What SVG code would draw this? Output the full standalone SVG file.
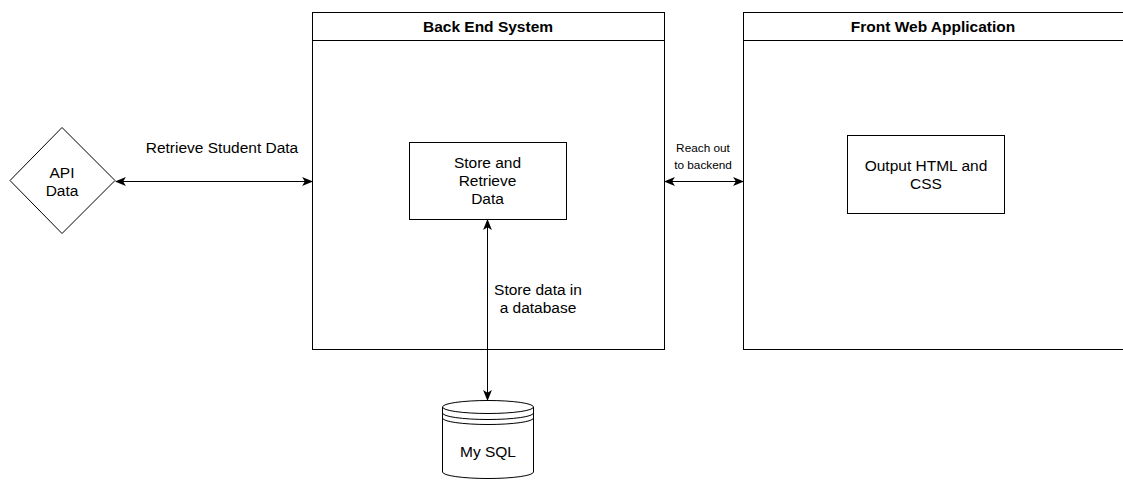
<svg xmlns="http://www.w3.org/2000/svg" width="1123" height="481" viewBox="0 0 1123 481">
<defs>
<marker id="arr" viewBox="0 0 10 10" refX="9" refY="5" markerWidth="11" markerHeight="11" markerUnits="userSpaceOnUse" orient="auto-start-reverse">
<path d="M0,1 L10,5 L0,9 L2.5,5 Z" fill="#000"/>
</marker>
</defs>
<style>
.box{fill:#fff;stroke:#000;stroke-width:1}
.t{font-family:"Liberation Sans",Arial,sans-serif;font-size:15.5px;fill:#000;text-anchor:middle}
.b{font-weight:bold}
.s{font-size:11.8px}
.c{fill:none;stroke:#000;stroke-width:1}
</style>
<rect width="1123" height="481" fill="#fff"/>
<g id="backend">
<rect class="box" x="312.5" y="12.5" width="352" height="337"/>
<line class="c" x1="312.5" y1="40.5" x2="664.5" y2="40.5"/>
<text class="t b" x="488" y="32">Back End System</text>
</g>
<g id="frontend">
<rect class="box" x="743.5" y="12.5" width="400" height="337"/>
<line class="c" x1="743.5" y1="40.5" x2="1123" y2="40.5"/>
<text class="t b" x="933" y="32">Front Web Application</text>
</g>
<g id="api">
<polygon class="box" points="62,127.5 115,180.5 62,233.5 10,180.5"/>
<text class="t" x="62" y="178">API</text>
<text class="t" x="62" y="196">Data</text>
</g>
<g id="store">
<rect class="box" x="409.5" y="142.5" width="157" height="77"/>
<text class="t" x="487.5" y="168">Store and</text>
<text class="t" x="487.5" y="186">Retrieve</text>
<text class="t" x="487.5" y="204">Data</text>
</g>
<g id="output">
<rect class="box" x="847.5" y="135.5" width="157" height="78"/>
<text class="t" x="926" y="171">Output HTML and</text>
<text class="t" x="926" y="189">CSS</text>
</g>
<g id="mysql">
<path class="box" d="M442.5,407 A45.5,6.5 0 0 1 533.5,407 L533.5,472 A45.5,6.5 0 0 1 442.5,472 Z"/>
<path class="c" d="M442.5,407 A45.5,6.5 0 0 0 533.5,407"/>
<path class="c" d="M442.5,413 A45.5,6.5 0 0 0 533.5,413"/>
<path class="c" d="M442.5,418 A45.5,6.5 0 0 0 533.5,418"/>
<text class="t" x="488" y="457">My SQL</text>
</g>
<g id="connectors">
<line class="c" x1="116" y1="181.5" x2="312" y2="181.5" marker-start="url(#arr)" marker-end="url(#arr)"/>
<text class="t" x="222" y="153">Retrieve Student Data</text>
<line class="c" x1="665" y1="181.5" x2="743" y2="181.5" marker-start="url(#arr)" marker-end="url(#arr)"/>
<text class="t s" x="703" y="152">Reach out</text>
<text class="t s" x="703" y="169">to backend</text>
<line class="c" x1="487.5" y1="220" x2="487.5" y2="400" marker-start="url(#arr)" marker-end="url(#arr)"/>
<text class="t" x="538" y="295">Store data in</text>
<text class="t" x="538" y="313">a database</text>
</g>
</svg>
